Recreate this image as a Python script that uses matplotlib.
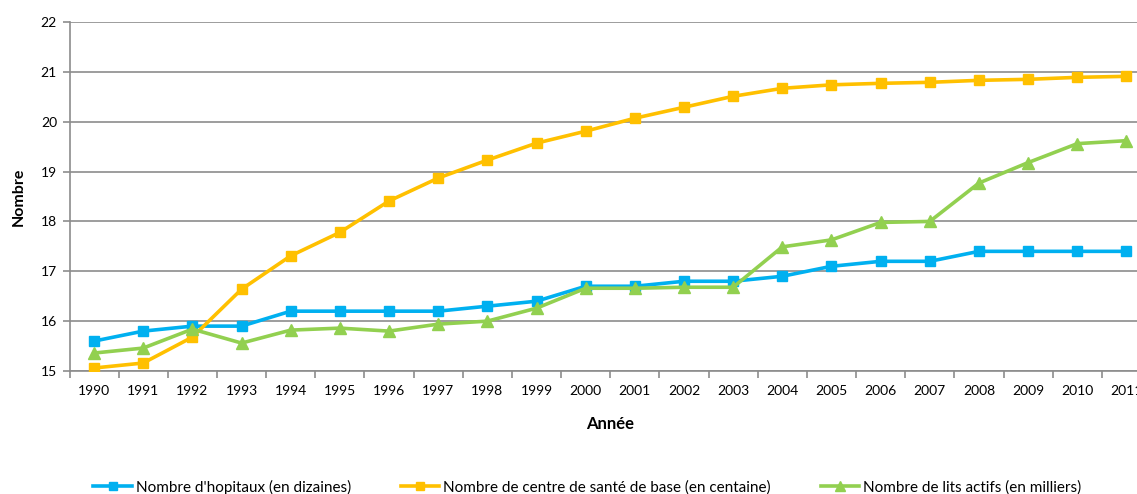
import matplotlib
matplotlib.use("Agg")
import matplotlib.pyplot as plt
import numpy as np

years = [str(y) for y in range(1990, 2012)]
hopitaux = [15.6, 15.8, 15.9, 15.9, 16.2, 16.2, 16.2, 16.2, 16.3, 16.4, 16.7,
            16.7, 16.8, 16.8, 16.9, 17.1, 17.2, 17.2, 17.4, 17.4, 17.4, 17.4]
centres = [15.06, 15.16, 15.68, 16.64, 17.31, 17.78, 18.41, 18.87, 19.23, 19.57, 19.81,
           20.07, 20.29, 20.51, 20.67, 20.74, 20.77, 20.79, 20.83, 20.85, 20.89, 20.91]
lits = [15.36, 15.46, 15.84, 15.56, 15.82, 15.86, 15.80, 15.94, 16.00, 16.26, 16.66,
        16.66, 16.68, 16.68, 17.49, 17.63, 17.98, 18.00, 18.77, 19.18, 19.56, 19.62]
labels = ["Nombre d'hopitaux (en dizaines)",
          "Nombre de centre de santé de base (en centaine)",
          "Nombre de lits actifs (en milliers)"]

plt.rcParams['font.family'] = ['Lato', 'DejaVu Sans']

W, H = 1137, 494
fig = plt.figure(figsize=(W / 100, H / 100), dpi=100)
ax = fig.add_axes([69.5 / W, 1 - 371 / H, (1151 - 69.5) / W, (371 - 22) / H])

x = np.arange(len(years))
grid_c = '#8c8c8c'
ax.plot(x, hopitaux, color='#00B0F0', lw=2.6, marker='s', ms=7.5, label=labels[0], zorder=3)
ax.plot(x, centres, color='#FFC000', lw=2.6, marker='s', ms=7.5, label=labels[1], zorder=3)
ax.plot(x, lits, color='#92D050', lw=2.6, marker='^', ms=8, label=labels[2], zorder=3)

ax.set_ylim(15, 22)
ax.set_xlim(-0.5, len(years) - 0.5)
ax.set_yticks(range(15, 23))
ax.yaxis.grid(True, color=grid_c, lw=1.2)
ax.set_axisbelow(True)
ax.set_xticks(x)
ax.set_xticklabels(years, fontsize=10)
ax.set_xticks(np.arange(-0.5, len(years)), minor=True)
ax.tick_params(axis='x', which='major', length=0, pad=10)
ax.tick_params(axis='x', which='minor', length=5, color=grid_c, width=1.2)
ax.tick_params(axis='y', length=5, color=grid_c, width=1.2, labelsize=10, pad=4)
for s in ['top', 'right']:
    ax.spines[s].set_visible(False)
for s in ['left', 'bottom']:
    ax.spines[s].set_color(grid_c)
    ax.spines[s].set_linewidth(1.2)

ax.set_xlabel('Année', fontsize=12, fontweight='bold', labelpad=14)
ax.set_ylabel('Nombre', fontsize=11.5, fontweight='bold', labelpad=11)

fig.legend(loc='center', bbox_to_anchor=(587.5 / W, 1 - 487 / H), ncol=3, frameon=False,
           fontsize=11, columnspacing=3.3, handlelength=2.5, handletextpad=0.25,
           markerscale=0.85)

fig.savefig('out.png', dpi=100)
